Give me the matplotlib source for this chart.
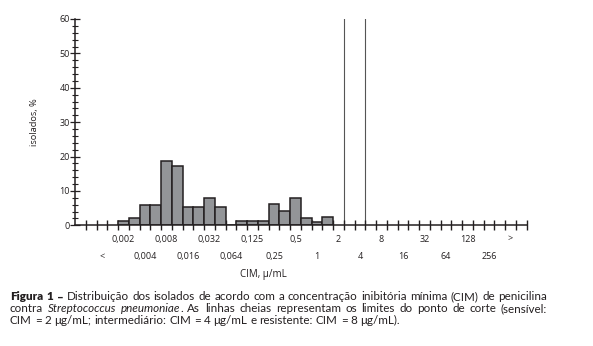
import matplotlib
matplotlib.use("Agg")
import matplotlib.pyplot as plt
from matplotlib.ticker import MultipleLocator

# Etest scale, one slot per tick interval on the x axis
scale = ["", "", "<", "",
         "0,002", "0,003", "0,004", "0,006", "0,008", "0,012", "0,016", "0,023",
         "0,032", "0,047", "0,064", "0,094", "0,125", "0,19", "0,25", "0,38",
         "0,5", "0,75", "1", "1,5", "2", "3", "4", "6", "8", "12", "16", "24",
         "32", "48", "64", "96", "128", "192", "256", "", ">", ""]

# isolates per MIC, %
bar_mic = ["0,002", "0,003", "0,004", "0,006", "0,008", "0,012", "0,016",
           "0,023", "0,032", "0,047", "0,064", "0,094", "0,125", "0,19",
           "0,25", "0,38", "0,5", "0,75", "1", "1,5"]
bar_pct = [1.3, 2.0, 5.8, 5.8, 18.8, 17.3, 5.2, 5.2, 7.9, 5.2, 0.0, 1.3, 1.3,
           1.3, 6.2, 4.2, 7.9, 2.0, 1.0, 2.3]

# labelled slots (every other one), alternating between two rows
shown = ["<", "0,002", "0,004", "0,008", "0,016", "0,032", "0,064", "0,125",
         "0,25", "0,5", "1", "2", "4", "8", "16", "32", "64", "128", "256", ">"]

# breakpoints: sensitive <= 2, resistant >= 8
cut_mic = ["2", "4"]

INK = "#231f20"
FONT = ["Open Sans", "DejaVu Sans"]
CAP_FONT = ["Lato", "DejaVu Sans"]

W, H = 593, 346
fig = plt.figure(figsize=(W / 100, H / 100), dpi=100)
ax = fig.add_axes([75 / W, 1 - 225.3 / H, 451.7 / W, 206.3 / H])

xs = [scale.index(m) + 0.5 for m in bar_mic]
ax.bar(xs, bar_pct, width=1.0, color="#939598", edgecolor=INK, linewidth=1.1,
       zorder=2)
for m in cut_mic:
    ax.axvline(scale.index(m) + 1, color="#555555", linewidth=0.8, zorder=1)

ax.set_xlim(0, len(scale))
ax.set_ylim(0, 60)
for s in ("top", "right"):
    ax.spines[s].set_visible(False)
for s in ("left", "bottom"):
    ax.spines[s].set_linewidth(1.1)
    ax.spines[s].set_color(INK)

ax.set_xticks(range(1, len(scale) + 1))
ax.tick_params(axis="x", direction="inout", length=7.2, width=1.0,
               color=INK, labelbottom=False)
ax.yaxis.set_major_locator(MultipleLocator(10))
ax.yaxis.set_minor_locator(MultipleLocator(2))
ax.tick_params(axis="y", which="major", direction="inout", length=6.5,
               width=0.9, color=INK, pad=0.3, labelsize=6.5, labelcolor=INK)
ax.tick_params(axis="y", which="minor", direction="inout", length=4.3,
               width=0.8, color=INK)
for lab in ax.get_yticklabels():
    lab.set_family(FONT)

for j, lab in enumerate(shown):
    x = scale.index(lab) + 0.5
    dy = -22.8 if j % 2 == 0 else -9.9
    ax.annotate(lab, xy=(x, 0), xycoords=("data", "axes fraction"),
                xytext=(0, dy), textcoords="offset points", ha="center",
                va="center", fontsize=6.5, family=FONT, color=INK)

ax.set_ylabel("isolados, %", fontsize=6.7, family=FONT, color=INK)
ax.yaxis.set_label_coords(-0.08, 0.5)
fig.text(263 / W, 1 - 275 / H, "CIM, μ/mL", ha="center", va="center",
         fontsize=7, family=FONT, color=INK)

# ---- caption, justified between x0 and x1 ----
BOLD = dict(weight="heavy")
NORM = dict()
ITAL = dict(style="italic")
caption = [
    ([("Figura 1 –", BOLD),
      (" Distribuição dos isolados de acordo com a concentração inibitória "
       "mínima (CIM) de penicilina", NORM)], True),
    ([("contra ", NORM), ("Streptococcus pneumoniae", ITAL),
      (". As linhas cheias representam os limites do ponto de corte "
       "(sensível:", NORM)], True),
    ([("CIM = 2 μg/mL; intermediário: CIM = 4 μg/mL e resistente: "
       "CIM = 8 μg/mL).", NORM)], False),
]
cap_x0, cap_x1 = 10, 547
cap_base = [300.5, 312.5, 324.5]
cap_size = 8.4

renderer = fig.canvas.get_renderer()


def make(piece, style):
    return fig.text(0, 0, piece, fontsize=cap_size, family=CAP_FONT,
                    color=INK, va="baseline", ha="left", **style)


probe = [make("a a", NORM), make("aa", NORM)]
space = (probe[0].get_window_extent(renderer).width
         - probe[1].get_window_extent(renderer).width)
for t in probe:
    t.remove()

for (segs, justify), base in zip(caption, cap_base):
    words = []
    fresh = True
    for text, style in segs:
        for k, part in enumerate(text.split(" ")):
            if k > 0:
                fresh = True
            if not part:
                continue
            if fresh or not words:
                words.append([])
            words[-1].append(make(part, style))
            fresh = False
    widths = [[t.get_window_extent(renderer).width for t in w] for w in words]
    total = sum(sum(w) for w in widths)
    gap = (cap_x1 - cap_x0 - total) / (len(words) - 1) if justify else space
    x = cap_x0
    for w, ws in zip(words, widths):
        for t, wd in zip(w, ws):
            t.set_position((x / W, 1 - base / H))
            x += wd
        x += gap

fig.savefig("out.png", dpi=100)
